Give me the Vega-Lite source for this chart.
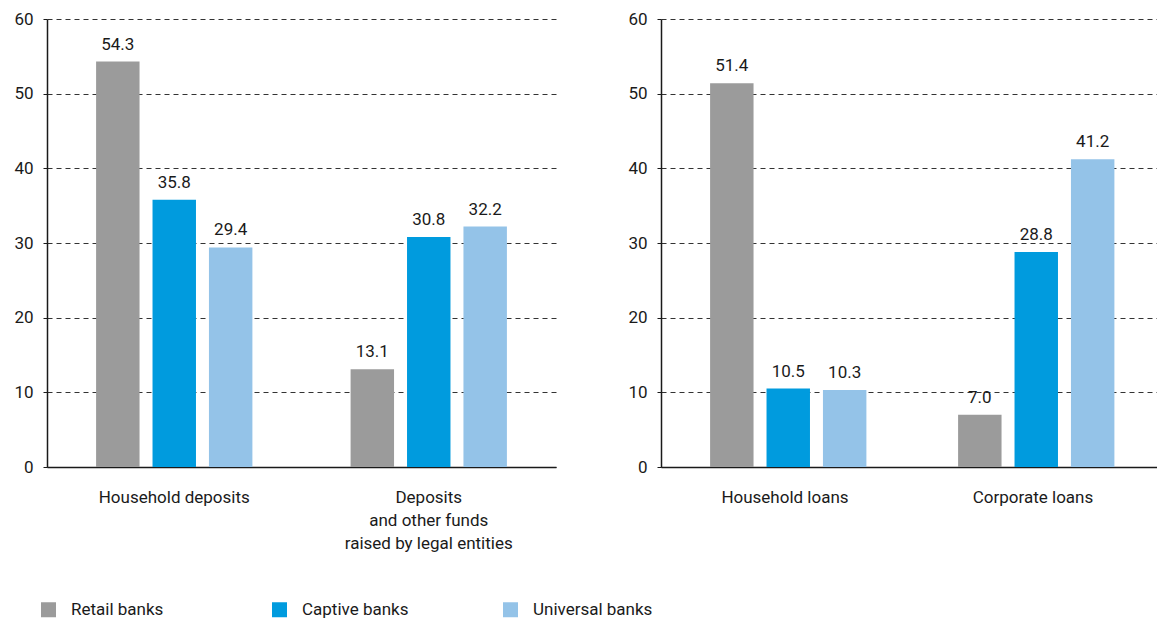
{
  "$schema": "https://vega.github.io/schema/vega-lite/v6.json",
  "autosize": {"type": "pad"},
  "padding": {"left": 13, "top": 10, "right": 0, "bottom": 0},
  "data": {"values": [
    {"panel": "A", "group": "Household deposits", "bank": "Retail banks", "value": 54.3},
    {"panel": "A", "group": "Household deposits", "bank": "Captive banks", "value": 35.8},
    {"panel": "A", "group": "Household deposits", "bank": "Universal banks", "value": 29.4},
    {"panel": "A", "group": "Deposits|and other funds|raised by legal entities", "bank": "Retail banks", "value": 13.1},
    {"panel": "A", "group": "Deposits|and other funds|raised by legal entities", "bank": "Captive banks", "value": 30.8},
    {"panel": "A", "group": "Deposits|and other funds|raised by legal entities", "bank": "Universal banks", "value": 32.2},
    {"panel": "B", "group": "Household loans", "bank": "Retail banks", "value": 51.4},
    {"panel": "B", "group": "Household loans", "bank": "Captive banks", "value": 10.5},
    {"panel": "B", "group": "Household loans", "bank": "Universal banks", "value": 10.3},
    {"panel": "B", "group": "Corporate loans", "bank": "Retail banks", "value": 7.0},
    {"panel": "B", "group": "Corporate loans", "bank": "Captive banks", "value": 28.8},
    {"panel": "B", "group": "Corporate loans", "bank": "Universal banks", "value": 41.2}
  ]},
  "config": {
    "font": "Roboto",
    "view": {"stroke": null},
    "concat": {"spacing": 71},
    "axis": {
      "labelFont": "Roboto",
      "labelFontSize": 17,
      "labelColor": "#1a1a1a",
      "domainColor": "#1a1a1a",
      "tickColor": "#1a1a1a",
      "title": null
    },
    "legend": {
      "labelFont": "Roboto",
      "labelFontSize": 17,
      "labelColor": "#1a1a1a"
    }
  },
  "hconcat": [
    {
      "width": 509,
      "height": 448,
      "transform": [{"filter": "datum.panel === 'A'"}],
      "encoding": {
        "x": {"field": "group", "type": "nominal", "sort": null,
          "scale": {"paddingInner": 0, "paddingOuter": 0},
          "axis": {"labelAngle": 0, "ticks": false, "labelPadding": 22, "labelLineHeight": 23,
                   "labelExpr": "split(datum.label, '|')", "domainWidth": 1.5, "grid": false}},
        "xOffset": {"field": "bank", "type": "nominal", "sort": ["Retail banks", "Captive banks", "Universal banks"],
          "scale": {"paddingInner": 0.23, "paddingOuter": 0.87}},
        "y": {"field": "value", "type": "quantitative",
          "scale": {"domain": [0, 60]},
          "axis": {"values": [0, 10, 20, 30, 40, 50, 60], "tickSize": 4, "labelPadding": 10, "domainWidth": 1.5,
                   "grid": true, "gridDash": [5, 4], "gridColor": "#333333", "gridWidth": 1}}
      },
      "layer": [
        {"mark": {"type": "bar"},
         "encoding": {"color": {"field": "bank", "type": "nominal",
           "scale": {"domain": ["Retail banks", "Captive banks", "Universal banks"], "range": ["#9b9b9b", "#009bde", "#94c3e8"]},
           "legend": {"orient": "none", "legendX": -7, "legendY": 582, "direction": "horizontal", "title": null, "symbolType": "square",
                      "symbolSize": 225, "symbolStrokeWidth": 0, "columnPadding": 80, "gridAlign": "all", "labelOffset": 14}}}},
        {"mark": {"type": "text", "baseline": "bottom", "dy": -8, "fontSize": 17, "color": "#1a1a1a"},
         "encoding": {"text": {"field": "value", "type": "quantitative", "format": ".1f"}}}
      ]
    },
    {
      "width": 496,
      "height": 448,
      "transform": [{"filter": "datum.panel === 'B'"}],
      "encoding": {
        "x": {"field": "group", "type": "nominal", "sort": null,
          "scale": {"paddingInner": 0, "paddingOuter": 0},
          "axis": {"labelAngle": 0, "ticks": false, "labelPadding": 22, "labelLineHeight": 23,
                   "domainWidth": 1.5, "grid": false}},
        "xOffset": {"field": "bank", "type": "nominal", "sort": ["Retail banks", "Captive banks", "Universal banks"],
          "scale": {"paddingInner": 0.21, "paddingOuter": 0.84}},
        "y": {"field": "value", "type": "quantitative",
          "scale": {"domain": [0, 60]},
          "axis": {"values": [0, 10, 20, 30, 40, 50, 60], "tickSize": 4, "labelPadding": 10, "domainWidth": 1.5,
                   "grid": true, "gridDash": [5, 4], "gridColor": "#333333", "gridWidth": 1}}
      },
      "layer": [
        {"mark": {"type": "bar"},
         "encoding": {"color": {"field": "bank", "type": "nominal",
           "scale": {"domain": ["Retail banks", "Captive banks", "Universal banks"], "range": ["#9b9b9b", "#009bde", "#94c3e8"]}}}},
        {"mark": {"type": "text", "baseline": "bottom", "dy": -8, "fontSize": 17, "color": "#1a1a1a"},
         "encoding": {"text": {"field": "value", "type": "quantitative", "format": ".1f"}}}
      ]
    }
  ]
}
